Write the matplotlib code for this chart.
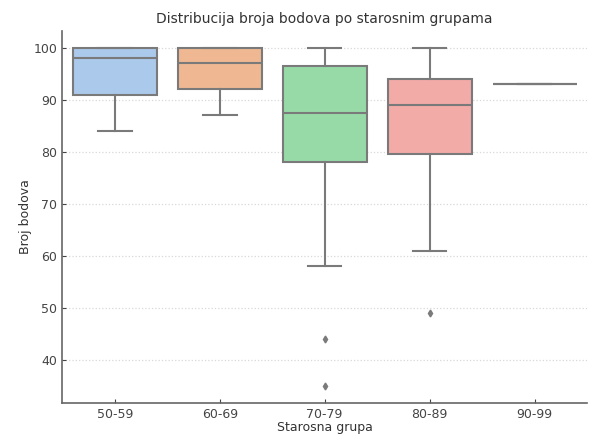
import matplotlib
matplotlib.use("Agg")
import matplotlib.pyplot as plt
import seaborn as sns

# --- data ---
groups = ["50-59", "60-69", "70-79", "80-89", "90-99"]
whis_lo = [84, 87, 58, 61, 93]
q1 = [91, 92, 78, 79.5, 93]
medians = [98, 97, 87.5, 89, 93]
q3 = [100, 100, 96.5, 94, 93]
whis_hi = [100, 100, 100, 100, 93]
outliers = [[], [], [44, 35], [49], []]

stats = []
for g, lo, a, m, b, hi, fl in zip(groups, whis_lo, q1, medians, q3, whis_hi, outliers):
    stats.append({'label': g, 'whislo': lo, 'q1': a, 'med': m, 'q3': b,
                  'whishi': hi, 'fliers': fl})

pal = [sns.desaturate(c, 0.75) for c in sns.color_palette("pastel", len(groups))]
line_col = "#7a7a7a"

fig = plt.figure(figsize=(5.93, 4.36), dpi=100)
ax = fig.add_axes([0.105, 0.076, 0.885, 0.853])

bp = ax.bxp(stats, positions=range(len(groups)), widths=0.8, capwidths=0.32,
            patch_artist=True, manage_ticks=False,
            boxprops=dict(edgecolor=line_col, linewidth=1.5),
            medianprops=dict(color=line_col, linewidth=1.5),
            whiskerprops=dict(color=line_col, linewidth=1.5),
            capprops=dict(color=line_col, linewidth=1.5),
            flierprops=dict(marker='d', markerfacecolor=line_col,
                            markeredgecolor=line_col, markersize=3.5))
for patch, c in zip(bp['boxes'], pal):
    patch.set_facecolor(c)

ax.set_xticks(range(len(groups)))
ax.set_xticklabels(groups)
ax.set_xlim(-0.5, len(groups) - 0.5)
ax.set_ylim(31.75, 103.25)
ax.set_yticks([40, 50, 60, 70, 80, 90, 100])

ax.yaxis.grid(True, linestyle=':', color='#d8d8d8', linewidth=0.9)
ax.set_axisbelow(True)
for s in ['top', 'right']:
    ax.spines[s].set_visible(False)
for s in ['left', 'bottom']:
    ax.spines[s].set_color('#666666')
    ax.spines[s].set_linewidth(1.2)
ax.tick_params(direction='in', colors='#444444', length=3, labelsize=9)

ax.set_title("Distribucija broja bodova po starosnim grupama", fontsize=10, color='#333333')
ax.set_xlabel("Starosna grupa", fontsize=9, color='#333333', labelpad=0)
ax.set_ylabel("Broj bodova", fontsize=9, color='#333333', labelpad=1)

fig.savefig("out.png", dpi=100)
